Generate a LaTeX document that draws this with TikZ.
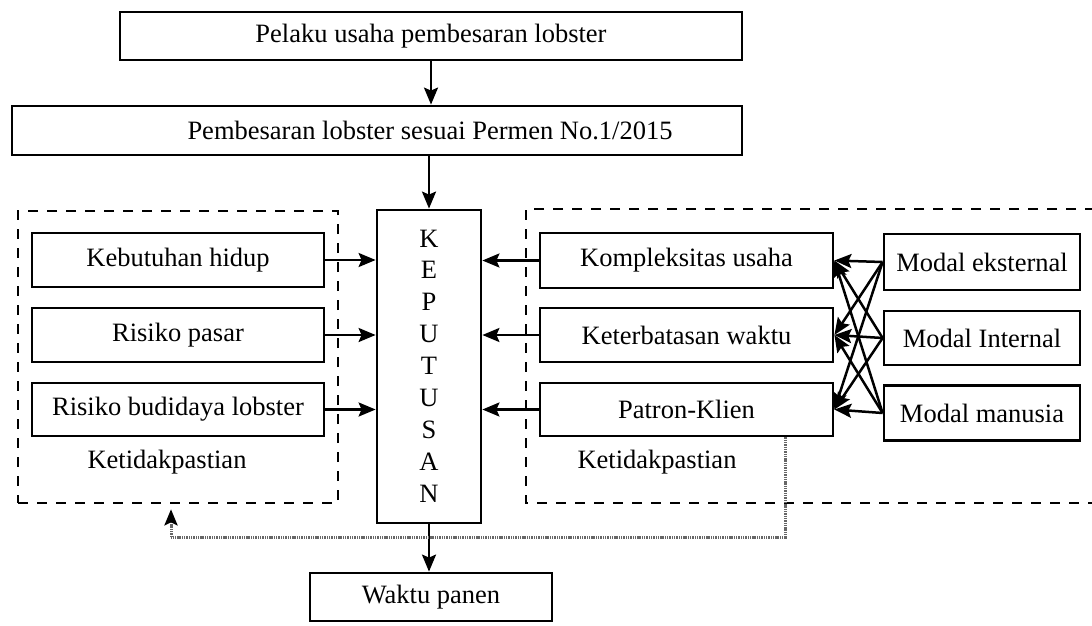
\documentclass[tikz,border=0pt]{standalone}
\usepackage{fontspec}
\setmainfont{Liberation Serif}
\usetikzlibrary{arrows.meta}
\begin{document}
\begin{tikzpicture}[x=1pt,y=-1pt,
 box/.style={draw,line width=2.8pt,inner sep=0pt,font=\fontsize{26.5}{30}\selectfont},
 arr/.style={line width=2.5pt,-{Stealth[length=17pt,width=14pt,inset=3pt]}},
 dbox/.style={draw,line width=2.6pt,dash pattern=on 10pt off 9pt},
 dotl/.style={draw=black!60,line width=3pt,dash pattern=on 1.4pt off 0.9pt},
 lbl/.style={inner sep=0pt,font=\fontsize{26.5}{30}\selectfont}]
\useasboundingbox (0,0) rectangle (1092,626);
% top boxes
\node[box,minimum width=622pt,minimum height=48pt] (pel) at (431,36) {Pelaku usaha pembesaran lobster};
\node[box,minimum width=730pt,minimum height=49pt] (pem) at (377,130.5) {};
\node[lbl] (pemt) at (430,130.5) {Pembesaran lobster sesuai Permen No.1/2015};
% keputusan
\node[box,minimum width=104pt,minimum height=313pt] (kep) at (429,366.5) {};
\node[inner sep=0pt,align=center,font=\fontsize{26.5}{31.9}\selectfont] (kept) at (429,366) {K\\E\\P\\U\\T\\U\\S\\A\\N};
% waktu panen
\node[box,minimum width=242pt,minimum height=48pt] (wak) at (431,597) {Waktu panen};
% dashed boxes
\node[dbox,minimum width=320pt,minimum height=292pt,inner sep=0pt] (ldash) at (178,357) {};
\coordinate (rdA) at (1095,209);
\coordinate (rdB) at (526,209);
\coordinate (rdC) at (526,503);
\coordinate (rdD) at (1095,503);
\draw[dbox] (rdA) -- (rdB) -- (rdC) -- (rdD);
% left boxes
\node[box,minimum width=292pt,minimum height=54pt] (keb) at (178,260) {Kebutuhan hidup};
\node[box,minimum width=292pt,minimum height=54pt] (rps) at (178,335) {Risiko pasar};
\node[box,minimum width=292pt,minimum height=53pt] (rbl) at (178,409.5) {Risiko budidaya lobster};
% right boxes
\node[box,minimum width=293pt,minimum height=55pt] (kom) at (686.5,260.5) {Kompleksitas usaha};
\node[box,minimum width=293pt,minimum height=54pt] (ktw) at (686.5,335) {Keterbatasan waktu};
\node[box,minimum width=293pt,minimum height=53pt] (pk) at (686.5,409.5) {Patron-Klien};
% modal boxes
\node[box,minimum width=196pt,minimum height=56pt] (me) at (982,262) {Modal eksternal};
\node[box,minimum width=196pt,minimum height=54pt] (mi) at (982,338) {Modal Internal};
\node[box,minimum width=196pt,minimum height=55pt] (mm) at (982,413) {Modal manusia};
% labels
\node[lbl] (kl) at (167,462) {Ketidakpastian};
\node[lbl] (kr) at (657,462) {Ketidakpastian};
% arrows
\draw[arr] (pel.south) -- (pem.north -| pel.south);
\draw[arr] (pem.south -| kep.north) -- (kep.north);
\draw[arr] (kep.south) -- (wak.north -| kep.south);
\foreach \n in {keb,rps,rbl}{\draw[arr] (\n.east) -- (\n.east -| kep.west);}
\foreach \n in {kom,ktw,pk}{\draw[arr] (\n.west) -- (\n.west -| kep.east);}
\foreach \m in {me,mi,mm}{\foreach \n in {kom,ktw,pk}{\draw[arr] (\m.west) -- (\n.east);}}
% dotted feedback
\coordinate (fbx) at (785,537);
\coordinate (fby) at (171,537);
\draw[dotl] (pk.south -| fbx) -- (fbx) -- (fby);
\draw[dotl,-{Stealth[length=16pt,width=13pt,inset=3pt,color=black]},shorten >=5pt] (fby) -- (fby |- ldash.south);
\end{tikzpicture}
\end{document}
